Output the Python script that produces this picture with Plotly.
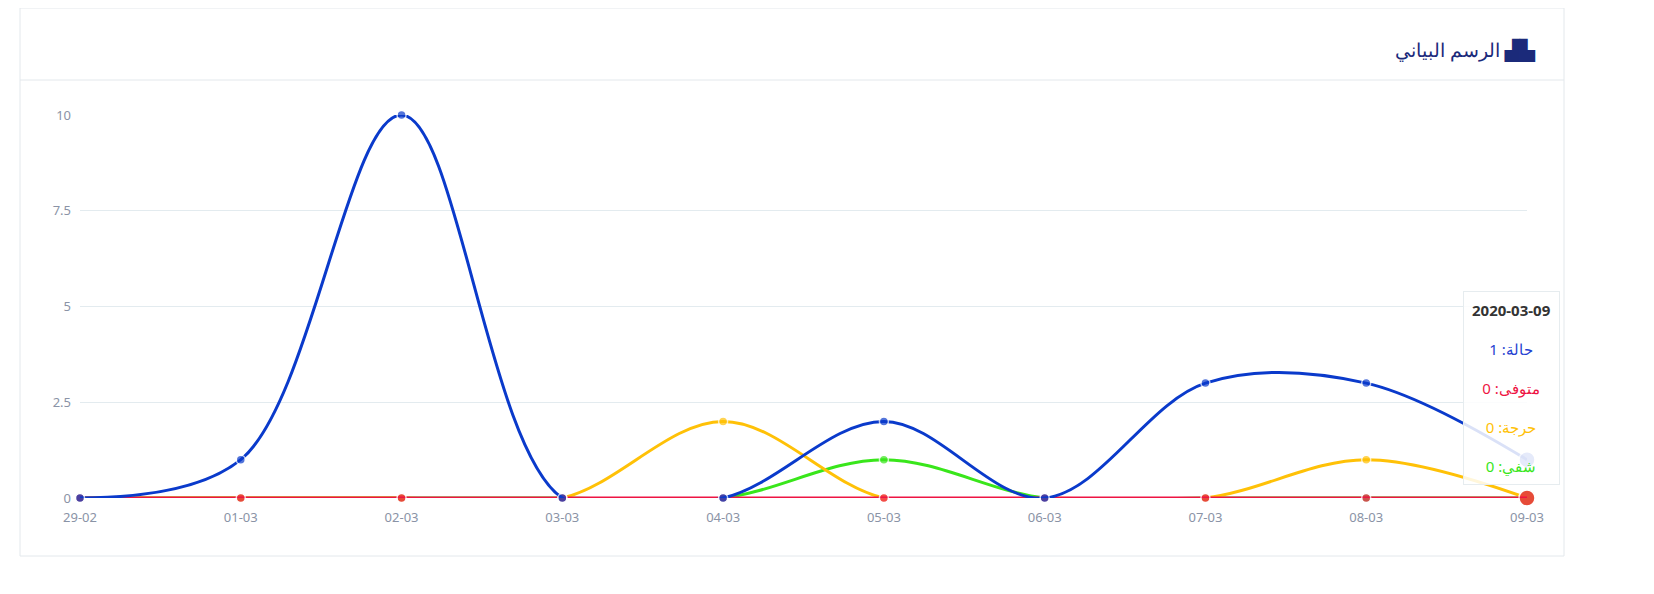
import plotly.graph_objects as go

dates = ["29-02","01-03","02-03","03-03","04-03","05-03","06-03","07-03","08-03","09-03"]
cases = [0,1,10,0,0,2,0,3,3,1]
deaths = [0,0,0,0,0,0,0,0,0,0]
critical = [0,0,0,0,2,0,0,0,1,0]
recovered = [0,0,0,0,0,1,0,0,0,0]
yticks = [0,2.5,5,7.5,10]
ytick_text = ["0","2.5","5","7.5","10"]

W, H = 1654, 594
L, R, T, B = 72, 135, 107, 104

series = [
    ("شفي", recovered, "#39e61b"),
    ("حرجة", critical, "#ffc107"),
    ("متوفى", deaths, "#ee1443"),
    ("حالة", cases, "#0a3acb"),
]
fig = go.Figure()
for name, vals, col in series:
    sizes = [9]*len(vals)
    sizes[-1] = 16
    fig.add_trace(go.Scatter(x=dates, y=vals, name=name, mode="lines+markers",
        line=dict(color=col, width=3, shape="spline", smoothing=1.0),
        marker=dict(color=col, size=sizes, line=dict(color="white", width=1.5)),
        cliponaxis=False))

pw, ph = W-L-R, H-T-B
def fx(x): return (x-L)/pw
def fy(y): return (H-B-y)/ph

fig.add_shape(type="rect", xref="paper", yref="paper",
    x0=fx(12), x1=fx(1556), y0=fy(548), y1=fy(0),
    line=dict(color="#e3e8ec", width=1), fillcolor="rgba(0,0,0,0)", layer="below")
fig.add_shape(type="line", xref="paper", yref="paper",
    x0=fx(12), x1=fx(1556), y0=fy(72), y1=fy(72),
    line=dict(color="#e3e8ec", width=1))
fig.add_annotation(xref="paper", yref="paper", x=fx(1530), y=fy(42),
    text="الرسم البياني <b>▟▙</b>", showarrow=False, xanchor="right", yanchor="middle",
    font=dict(size=19, color="#1b2a7a", family="Noto Sans"))
fig.add_annotation(xref="paper", yref="paper", x=fx(1552), y=fy(283),
    text=("<b>2020-03-09</b><br><span style='font-size:6px'> </span><br><span style='color:#1f3fd1'>حالة: 1</span><br><span style='font-size:6px'> </span><br>"
          "<span style='color:#ee1443'>متوفى: 0</span><br><span style='font-size:6px'> </span><br><span style='color:#ffc107'>حرجة: 0</span><br><span style='font-size:6px'> </span><br>"
          "<span style='color:#39e61b'>شفي: 0</span>"),
    showarrow=False, xanchor="right", yanchor="top", align="center",
    font=dict(size=15, color="#333", family="Noto Sans"),
    bgcolor="rgba(255,255,255,0.85)", bordercolor="#e6ecef", borderwidth=1, borderpad=8)

fig.update_layout(width=W, height=H, margin=dict(l=L, r=R, t=T, b=B),
    paper_bgcolor="white", plot_bgcolor="white", showlegend=False,
    font=dict(family="Noto Sans", color="#8a93a6", size=13))
fig.update_xaxes(type="category", showgrid=False, showline=False, zeroline=False, ticks="",
    range=[0, 9], ticklabelstandoff=10)
fig.update_yaxes(range=[0, 10], tickvals=yticks, ticktext=ytick_text, gridcolor="#e3ebef",
    zeroline=False, showline=False, ticklabelstandoff=8)
fig.write_html("out.html")
